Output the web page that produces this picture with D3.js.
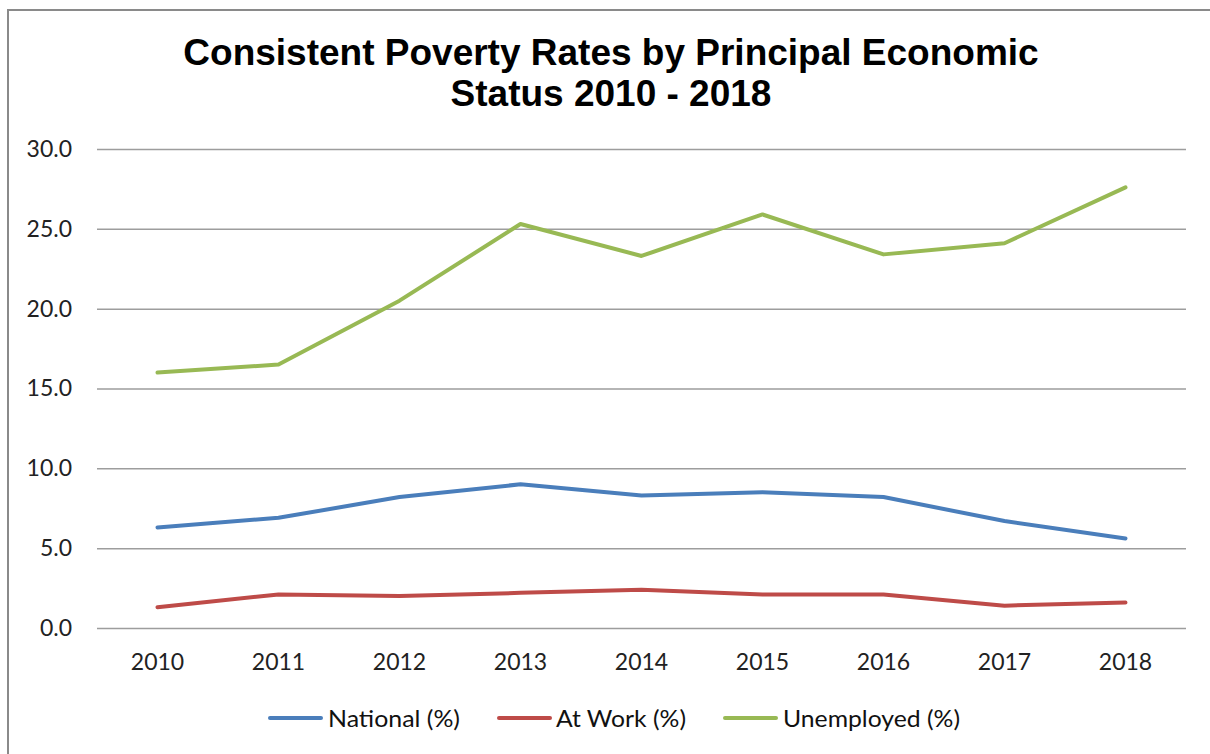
<!DOCTYPE html>
<html><head><meta charset="utf-8">
<script src="https://cdn.jsdelivr.net/npm/d3@7"></script>
<style>body{margin:0;background:#fff}svg{display:block}</style>
</head><body>
<svg id="c" width="1210" height="754"></svg>
<script>
const years = ["2010","2011","2012","2013","2014","2015","2016","2017","2018"];
const national = [6.3, 6.9, 8.2, 9.0, 8.3, 8.5, 8.2, 6.7, 5.6];
const atWork = [1.3, 2.1, 2.0, 2.2, 2.4, 2.1, 2.1, 1.4, 1.6];
const unemployed = [16.0, 16.5, 20.5, 25.3, 23.3, 25.9, 23.4, 24.1, 27.6];
const yTicks = [0, 5, 10, 15, 20, 25, 30];
const seriesNames = ["National (%)", "At Work (%)", "Unemployed (%)"];
const titleLines = ["Consistent Poverty Rates by Principal Economic", "Status 2010 - 2018"];

(function(){
const series = [
  {name: seriesNames[0], values: national, color: "#4a7ebb"},
  {name: seriesNames[1], values: atWork, color: "#be4b48"},
  {name: seriesNames[2], values: unemployed, color: "#98b954"}
];

const svg = d3.select("#c");
svg.append("path").attr("d","M8,1000 L8,10 L1300,10").attr("fill","none").attr("stroke","#8a8a8a").attr("stroke-width",2);

const pL = 97, pR = 1186, pT = 149, pB = 628;
const x = d3.scaleBand().domain(years).range([pL, pR]).padding(0);
const y = d3.scaleLinear().domain([0, 30]).range([pB, pT]);

svg.append("text").attr("text-anchor","middle")
  .style("font-family","'Liberation Sans', Arial, sans-serif").style("font-weight","bold").style("font-size","37px").attr("fill","#000")
  .selectAll("tspan").data(titleLines).join("tspan")
  .attr("x", 611).attr("y",(d,i)=>65 + i*41).text(d=>d);

const yAxis = d3.axisLeft(y).tickValues(yTicks).tickFormat(d3.format(".1f")).tickSize(-(pR-pL)).tickPadding(25);
const gy = svg.append("g").attr("transform",`translate(${pL},0)`).call(yAxis);
gy.select(".domain").remove();
gy.selectAll(".tick line").attr("stroke","#9d9d9d").attr("stroke-width",1.5);
gy.selectAll(".tick text").style("font-family","Lato, 'Open Sans', sans-serif").style("font-size","23px").attr("fill","#222");

const xAxis = d3.axisBottom(x).tickSize(0).tickPadding(26);
const gx = svg.append("g").attr("transform",`translate(0,${pB})`).call(xAxis);
gx.select(".domain").remove();
gx.selectAll(".tick text").style("font-family","Lato, 'Open Sans', sans-serif").style("font-size","23px").attr("fill","#222");

const line = d3.line().x((d,i)=>x(years[i]) + x.bandwidth()/2).y(d=>y(d));
svg.selectAll(".series").data(series).join("path")
  .attr("class","series").attr("fill","none")
  .attr("stroke",d=>d.color).attr("stroke-width",4).attr("stroke-linecap","round").attr("stroke-linejoin","round")
  .attr("d",d=>line(d.values));

const legX = [270, 499, 725];
const legTextX = [328, 556, 783];
const legW = [132, 130, 177];
const lg = svg.append("g");
series.forEach((s,i)=>{
  lg.append("line").attr("x1",legX[i]).attr("x2",legX[i]+51).attr("y1",718).attr("y2",718)
    .attr("stroke",s.color).attr("stroke-width",4).attr("stroke-linecap","round");
  lg.append("text").attr("x",legTextX[i]).attr("y",727)
    .attr("textLength",legW[i]).attr("lengthAdjust","spacingAndGlyphs")
    .style("font-family","Lato, 'Open Sans', sans-serif").style("font-size","24px").attr("fill","#111").text(s.name);
});
})();
</script>
</body></html>
